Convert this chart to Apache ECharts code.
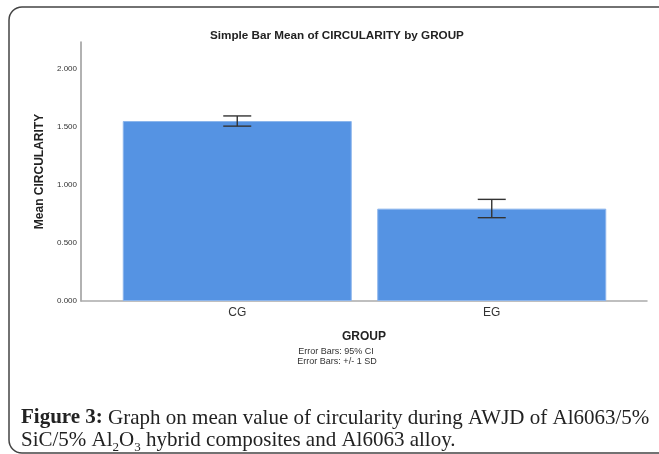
<!DOCTYPE html>
<html lang="en">
<head>
    <meta charset="UTF-8">
    <title>Mean of CIRCULARITY by GROUP</title>
    <script src="https://cdn.jsdelivr.net/npm/echarts@6/dist/echarts.min.js"></script>
    <style>
        html, body { margin: 0; padding: 0; background: #fff; }
    </style>
</head>
<body>
    <div id="main" style="width: 659px;height: 454px"></div>
    <script type="text/javascript">
        // data
        const groups = ['CG', 'EG'];
        const means = [1.553, 0.797];
        const errLow = [1.509, 0.719];
        const errHigh = [1.597, 0.877];
        const yMax = 2.235;

        const errData = groups.map((g, i) => [i, errLow[i], errHigh[i]]);

        var myChart = echarts.init(document.getElementById('main'));

        option = {
            backgroundColor: '#fff',
            animation: false,
            textStyle: { fontFamily: 'Liberation Sans, Arial, sans-serif' },
            title: {
                text: 'Simple Bar Mean of CIRCULARITY by GROUP',
                left: 210,
                top: 30,
                padding: 0,
                textStyle: { fontSize: 11.7, fontWeight: 'bold', color: '#222' }
            },
            grid: [
                // outer grid: carries the axis lines, y labels and axis names
                { left: 81, right: 12, top: 42, bottom: 153 },
                // inner grid: where the two bars sit
                { left: 110, right: 40, top: 42, bottom: 153 }
            ],
            xAxis: [{
                gridIndex: 0,
                type: 'value',
                min: 0, max: 1,
                name: 'GROUP',
                nameLocation: 'middle',
                nameGap: 30,
                nameTextStyle: { fontSize: 12, fontWeight: 'bold', color: '#222' },
                axisLine: { show: true, onZero: false, lineStyle: { color: '#aaa', width: 1.5 } },
                axisTick: { show: false },
                axisLabel: { show: false },
                splitLine: { show: false }
            }, {
                gridIndex: 1,
                type: 'category',
                data: groups,
                axisLine: { show: false },
                axisTick: { show: false },
                axisLabel: { fontSize: 12, color: '#333', margin: 6 },
                splitLine: { show: false }
            }],
            yAxis: [{
                gridIndex: 0,
                type: 'value',
                min: 0, max: yMax, interval: 0.5,
                name: 'Mean CIRCULARITY',
                nameLocation: 'middle',
                nameGap: 34,
                nameTextStyle: { fontSize: 12, fontWeight: 'bold', color: '#222' },
                axisLine: { show: true, lineStyle: { color: '#999', width: 1.5 } },
                axisTick: { show: false },
                axisLabel: {
                    fontSize: 8, color: '#333', margin: 4,
                    showMaxLabel: false,
                    formatter: v => v.toFixed(3)
                },
                splitLine: { show: false }
            }, {
                gridIndex: 1,
                type: 'value',
                min: 0, max: yMax,
                show: false
            }],
            series: [{
                type: 'bar',
                xAxisIndex: 1,
                yAxisIndex: 1,
                data: means,
                barWidth: 229,
                itemStyle: { color: '#5593e3', borderColor: '#8cb5ec', borderWidth: 1 }
            }, {
                type: 'custom',
                xAxisIndex: 1,
                yAxisIndex: 1,
                data: errData,
                z: 10,
                renderItem: function (params, api) {
                    var x = api.value(0);
                    var lo = api.coord([x, api.value(1)]);
                    var hi = api.coord([x, api.value(2)]);
                    var half = 14;
                    var style = { stroke: '#333', lineWidth: 1.4 };
                    return {
                        type: 'group',
                        children: [
                            { type: 'line', shape: { x1: hi[0], y1: hi[1], x2: lo[0], y2: lo[1] }, style: style },
                            { type: 'line', shape: { x1: hi[0] - half, y1: hi[1], x2: hi[0] + half, y2: hi[1] }, style: style },
                            { type: 'line', shape: { x1: lo[0] - half, y1: lo[1], x2: lo[0] + half, y2: lo[1] }, style: style }
                        ]
                    };
                }
            }],
            graphic: [{
                // rounded frame of the figure box
                type: 'rect',
                shape: { x: 9, y: 7, width: 720, height: 446, r: 13 },
                style: { fill: 'none', stroke: '#444', lineWidth: 1.5 },
                silent: true
            }, {
                type: 'text',
                x: 336, y: 352,
                style: { text: 'Error Bars: 95% CI', fontSize: 9, fill: '#333', align: 'center', verticalAlign: 'middle', fontFamily: 'Liberation Sans, Arial' }
            }, {
                type: 'text',
                x: 337, y: 362,
                style: { text: 'Error Bars: +/- 1 SD', fontSize: 9, fill: '#333', align: 'center', verticalAlign: 'middle', fontFamily: 'Liberation Sans, Arial' }
            }, {
                type: 'text',
                x: 21, y: 418,
                style: {
                    text: '{b|Figure 3:} Graph on mean value of circularity during AWJD of Al6063/5%',
                    fontSize: 21, fill: '#222', verticalAlign: 'middle',
                    fontFamily: 'Liberation Serif, serif',
                    rich: {
                        b: { fontSize: 21, fontWeight: 'bold', fontFamily: 'Liberation Serif, serif', fill: '#222' }
                    }
                }
            }, {
                type: 'text',
                x: 21, y: 440,
                style: {
                    text: '{t|SiC/5% Al}{s|2}{t|O}{s|3}{t| hybrid composites and Al6063 alloy.}',
                    fontSize: 21, fill: '#222', verticalAlign: 'middle',
                    fontFamily: 'Liberation Serif, serif',
                    rich: {
                        t: { fontSize: 21, lineHeight: 28, fontFamily: 'Liberation Serif, serif', fill: '#222' },
                        s: { fontSize: 13, lineHeight: 13, verticalAlign: 'bottom', fontFamily: 'Liberation Serif, serif', fill: '#222' }
                    }
                }
            }]
        };
        myChart.setOption(option);
        window.addEventListener("resize", function() {
            myChart.resize();
        });
    </script>
</body>
</html>
